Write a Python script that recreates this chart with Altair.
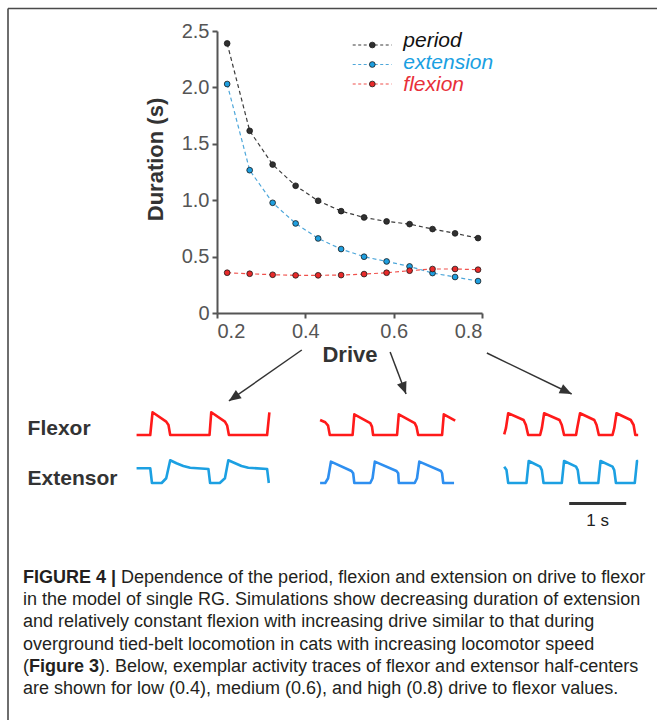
import altair as alt
import pandas as pd

FONT = "Liberation Sans"

# ---------------- data ----------------
drive = [0.223, 0.274, 0.326, 0.378, 0.429, 0.481, 0.533, 0.584, 0.636, 0.688, 0.739, 0.791]
period = [2.39, 1.615, 1.316, 1.128, 0.995, 0.903, 0.847, 0.812, 0.788, 0.744, 0.706, 0.664]
extension = [2.03, 1.266, 0.977, 0.794, 0.661, 0.567, 0.499, 0.457, 0.413, 0.354, 0.319, 0.283]
flexion = [0.357, 0.348, 0.339, 0.334, 0.334, 0.336, 0.345, 0.357, 0.375, 0.390, 0.390, 0.384]
series_names = ["period", "extension", "flexion"]

x_ticks = [0.2, 0.4, 0.6, 0.8]
y_ticks = [0, 0.5, 1.0, 1.5, 2.0, 2.5]

# arrows from the drive axis to the example traces (drive, duration units)
arrow_from_drive = [0.392, 0.592, 0.811]
arrow_from_dur = [-0.328, -0.346, -0.355]
arrow_to_drive = [0.227, 0.628, 1.003]
arrow_to_dur = [-0.78, -0.718, -0.718]
arrow_angle = [235, 159, 116]

# example activity traces: time (s) and normalised activity
blocks = ["low", "mid", "high"]
flex_t = {
    "low": [0.01, 0.25, 0.29, 0.53, 0.57, 0.60, 1.29, 1.32, 1.56, 1.60, 1.63, 2.30, 2.34],
    "mid": [3.23, 3.32, 3.37, 3.40, 3.80, 3.83, 4.11, 4.14, 4.16, 4.58, 4.61, 4.89, 4.92, 4.95, 5.37, 5.40, 5.60],
    "high": [6.46, 6.49, 6.53, 6.80, 6.84, 6.88, 7.09, 7.12, 7.16, 7.43, 7.47, 7.51, 7.72, 7.74, 7.79,
             8.04, 8.08, 8.12, 8.36, 8.39, 8.43, 8.68, 8.73, 8.76, 8.81],
}
flex_a = {
    "low": [0, 0, 1.0, 0.59, 0.44, 0, 0, 1.0, 0.59, 0.41, 0, 0, 1.0],
    "mid": [0.66, 0.56, 0.41, 0, 0, 0.91, 0.52, 0.37, 0, 0, 0.91, 0.52, 0.37, 0, 0, 0.91, 0.63],
    "high": [0.03, 0.30, 0.96, 0.66, 0.44, 0, 0, 0.30, 0.96, 0.66, 0.44, 0, 0, 0.30, 0.96,
             0.66, 0.44, 0, 0, 0.30, 0.96, 0.66, 0.44, 0, 0],
}
ext_t = {
    "low": [0.01, 0.25, 0.28, 0.45, 0.53, 0.60, 0.71, 0.83, 0.95, 1.27, 1.30, 1.47, 1.56, 1.62, 1.74,
            1.85, 1.97, 2.30, 2.33],
    "mid": [3.23, 3.32, 3.37, 3.42, 3.78, 3.81, 3.83, 4.11, 4.15, 4.19, 4.57, 4.60, 4.61, 4.89, 4.93,
            4.97, 5.35, 5.37, 5.39, 5.58],
    "high": [6.46, 6.50, 6.53, 6.85, 6.89, 7.09, 7.12, 7.15, 7.47, 7.51, 7.72, 7.75, 7.78, 8.11, 8.15,
             8.36, 8.39, 8.42, 8.75, 8.79, 8.81],
}
ext_a = {
    "low": [0.65, 0.65, 0, 0, 0.21, 1.0, 0.87, 0.75, 0.67, 0.62, 0, 0, 0.21, 1.0, 0.87, 0.75, 0.67, 0.62, 0],
    "mid": [0, 0, 0.21, 0.94, 0.53, 0.43, 0, 0, 0.21, 0.94, 0.53, 0.43, 0, 0, 0.21, 0.94, 0.53, 0.43, 0, 0],
    "high": [0.72, 0.57, 0, 0, 0.97, 0.72, 0.57, 0, 0, 0.97, 0.72, 0.57, 0, 0, 0.97, 0.72, 0.57, 0, 0, 0.97, 0.97],
}
trace_labels = ["Flexor", "Extensor"]
scale_bar_start = [7.6]
scale_bar_end = [8.6]
scale_bar_label = ["1 s"]

caption_bold_1 = "FIGURE 4 |"
caption_line_1 = "Dependence of the period, flexion and extension on drive to flexor"
caption_line_2 = "in the model of single RG. Simulations show decreasing duration of extension"
caption_line_3 = "and relatively constant flexion with increasing drive similar to that during"
caption_line_4 = "overground tied-belt locomotion in cats with increasing locomotor speed"
caption_open_5 = "("
caption_bold_5 = "Figure 3"
caption_line_5 = "). Below, exemplar activity traces of flexor and extensor half-centers"
caption_line_6 = "are shown for low (0.4), medium (0.6), and high (0.8) drive to flexor values."

# ---------------- styles ----------------
line_colors = ["#3c3c3c", "#4ea7da", "#f0514c"]
dot_colors = ["#303030", "#1e9fe0", "#e82a2a"]
text_colors = ["#111111", "#1aa0e2", "#e8303a"]
ext_colors = ["#1ca0e2", "#2e8ff0", "#1ca0e2"]
FLEX_RED = "#ff1a1a"
DARK = "#333333"

# ---------------- tables ----------------
rows = []
for name, vals in zip(series_names, [period, extension, flexion]):
    for d, v in zip(drive, vals):
        rows.append({"drive": d, "duration": v, "series": name})
main_df = pd.DataFrame(rows)

arrow_df = pd.DataFrame({"d0": arrow_from_drive, "u0": arrow_from_dur,
                         "d1": arrow_to_drive, "u1": arrow_to_dur, "angle": arrow_angle})

flex_df = pd.DataFrame([{"t": t, "a": a, "block": b} for b in blocks for t, a in zip(flex_t[b], flex_a[b])])
ext_df = pd.DataFrame([{"t": t, "a": a, "block": b} for b in blocks for t, a in zip(ext_t[b], ext_a[b])])
bar_df = pd.DataFrame({"t0": scale_bar_start, "t1": scale_bar_end, "label": scale_bar_label})
leg_df = pd.DataFrame({"series": series_names})
lab_df = pd.DataFrame({"label": trace_labels})

# ---------------- main plot ----------------
xs = alt.Scale(domain=[0.2, 0.8], nice=False, zero=False)
ys = alt.Scale(domain=[0, 2.5], nice=False, zero=False)
x_axis = alt.Axis(values=x_ticks, format=".1f", title="Drive", grid=False,
                  labelFont=FONT, labelFontSize=20, labelColor="#555555", labelPadding=3,
                  tickSize=5, tickWidth=2, tickColor="#555555",
                  domainColor="#555555", domainWidth=2,
                  titleFont=FONT, titleFontSize=22, titleFontWeight="bold", titleColor=DARK,
                  titleY=48.5, titleBaseline="alphabetic")
y_axis = alt.Axis(values=y_ticks, labelExpr="datum.value == 0 ? '0' : format(datum.value, '.1f')",
                  title="Duration (s)", grid=False,
                  labelFont=FONT, labelFontSize=20, labelColor="#555555", labelPadding=3,
                  tickSize=5, tickWidth=2, tickColor="#555555",
                  domainColor="#555555", domainWidth=2,
                  titleFont=FONT, titleFontSize=22, titleFontWeight="bold", titleColor=DARK,
                  titleX=-55, titleY=128, titleAlign="center", titleBaseline="alphabetic")

lines = alt.Chart(main_df).mark_line(strokeDash=[4, 3], strokeWidth=1.2).encode(
    x=alt.X("drive:Q", scale=xs, axis=x_axis),
    y=alt.Y("duration:Q", scale=ys, axis=y_axis),
    stroke=alt.Stroke("series:N", scale=alt.Scale(domain=series_names, range=line_colors), legend=None),
    detail="series:N",
)
points = alt.Chart(main_df).mark_circle(size=33, opacity=1, stroke="#1a1a1a", strokeWidth=0.8).encode(
    x=alt.X("drive:Q", scale=xs, axis=x_axis),
    y=alt.Y("duration:Q", scale=ys, axis=y_axis),
    fill=alt.Fill("series:N", scale=alt.Scale(domain=series_names, range=dot_colors), legend=None),
)
arrow_lines = alt.Chart(arrow_df).mark_rule(color=DARK, strokeWidth=1.5).encode(
    x=alt.X("d0:Q", scale=xs, axis=x_axis), y=alt.Y("u0:Q", scale=ys, axis=y_axis),
    x2="d1:Q", y2="u1:Q",
)
arrow_heads = alt.Chart(arrow_df).mark_point(
    shape="M0,0L-0.42,1L0.42,1Z", filled=True, size=576, color=DARK, opacity=1
).encode(
    x=alt.X("d1:Q", scale=xs, axis=x_axis), y=alt.Y("u1:Q", scale=ys, axis=y_axis),
    angle=alt.Angle("angle:Q", scale=None),
)
main = alt.layer(lines, points, arrow_lines, arrow_heads)

# ---------------- traces ----------------
ts = alt.Scale(domain=[0, 9], range=[-81, 432], nice=False, zero=False)
flex_line = alt.Chart(flex_df).mark_line(color=FLEX_RED, strokeWidth=2.6, strokeJoin="round").encode(
    x=alt.X("t:Q", scale=ts, axis=None),
    y=alt.Y("a:Q", scale=alt.Scale(domain=[0, 1], range=[404, 381.3], nice=False, zero=False), axis=None),
    detail="block:N",
)
ext_line = alt.Chart(ext_df).mark_line(strokeWidth=2.6, strokeJoin="round").encode(
    x=alt.X("t:Q", scale=ts, axis=None),
    y=alt.Y("a:Q", scale=alt.Scale(domain=[0, 1], range=[452, 429.3], nice=False, zero=False), axis=None),
    stroke=alt.Stroke("block:N", scale=alt.Scale(domain=blocks, range=ext_colors), legend=None),
    detail="block:N",
)
bar = alt.Chart(bar_df).mark_rule(color=DARK, strokeWidth=3).encode(
    x=alt.X("t0:Q", scale=ts, axis=None), x2="t1:Q", y=alt.value(472.5),
)
bar_text = alt.Chart(bar_df).transform_calculate(tm="(datum.t0 + datum.t1) / 2").mark_text(
    font=FONT, fontSize=17, color="#222222", baseline="middle"
).encode(x=alt.X("tm:Q", scale=ts, axis=None), y=alt.value(490.4), text="label:N")
traces = alt.layer(flex_line, ext_line, bar, bar_text).resolve_scale(y="independent", stroke="independent")

# ---------------- legend ----------------
leg_y = alt.Y("series:N", scale=alt.Scale(type="point", domain=series_names, range=[14, 53], padding=0), axis=None)
leg_rule = alt.Chart(leg_df).mark_rule(strokeDash=[3, 2.5], strokeWidth=1.2).encode(
    x=alt.value(135.7), x2=alt.value(174.7), y=leg_y,
    stroke=alt.Stroke("series:N", scale=alt.Scale(domain=series_names, range=line_colors), legend=None),
)
leg_dot = alt.Chart(leg_df).mark_circle(size=33, opacity=1, stroke="#1a1a1a", strokeWidth=0.8).encode(
    x=alt.value(155.3), y=leg_y,
    fill=alt.Fill("series:N", scale=alt.Scale(domain=series_names, range=dot_colors), legend=None),
)
legend_marks = alt.layer(leg_rule, leg_dot)
leg_text = alt.Chart(leg_df).mark_text(
    font=FONT, fontSize=21, fontStyle="italic", align="left", baseline="alphabetic"
).encode(
    x=alt.value(186.3),
    y=alt.Y("series:N", scale=alt.Scale(type="point", domain=series_names, range=[15.5, 59.5], padding=0), axis=None),
    text="series:N",
    color=alt.Color("series:N", scale=alt.Scale(domain=series_names, range=text_colors), legend=None),
)

# ---------------- row labels ----------------
row_labels = alt.Chart(lab_df).mark_text(
    font=FONT, fontSize=21, fontWeight="bold", color=DARK, align="left", baseline="middle"
).encode(
    x=alt.value(-189.4),
    y=alt.Y("label:N", scale=alt.Scale(type="point", domain=trace_labels, range=[398, 448], padding=0), axis=None),
    text="label:N",
)


# ---------------- caption ----------------
def caption(txt, x, y, bold=False):
    return alt.Chart(pd.DataFrame({"txt": [txt]})).mark_text(
        font=FONT, fontSize=18, fontWeight="bold" if bold else "normal", color="#231f20",
        align="left", baseline="alphabetic",
    ).encode(x=alt.value(x), y=alt.value(y), text="txt:N")


cap_x = 23 - 217
cap_y = [583 - 31 + 22.2 * i for i in range(6)]
captions = [
    caption(caption_bold_1, cap_x, cap_y[0], bold=True),
    caption(caption_line_1, cap_x + 98, cap_y[0]),
    caption(caption_line_2, cap_x, cap_y[1]),
    caption(caption_line_3, cap_x, cap_y[2]),
    caption(caption_line_4, cap_x, cap_y[3]),
    caption(caption_open_5, cap_x, cap_y[4]),
    caption(caption_bold_5, cap_x + 6, cap_y[4], bold=True),
    caption(caption_line_5, cap_x + 76, cap_y[4]),
    caption(caption_line_6, cap_x, cap_y[5]),
]

# ---------------- frame lines ----------------
frame_df = pd.DataFrame({"k": [0]})
frame_top = alt.Chart(frame_df).mark_rule(color="#4a4a4a", strokeWidth=1.6).encode(
    x=alt.value(-209), x2=alt.value(440), y=alt.value(-22.5))
frame_left = alt.Chart(frame_df).mark_rule(color="#4a4a4a", strokeWidth=1.6).encode(
    x=alt.value(-209), y=alt.value(-22.5), y2=alt.value(689))

chart = alt.layer(
    frame_top, frame_left, main, traces, legend_marks, leg_text, row_labels, *captions
).resolve_scale(
    x="independent", y="independent", stroke="independent", fill="independent", color="independent"
).properties(
    width=265, height=282,
    padding={"left": 217, "top": 31, "right": 175, "bottom": 407},
    autosize=alt.AutoSizeParams(type="none"),
    background="white",
).configure_view(stroke=None)

chart.save("out.html", embed_options={"renderer": "svg", "actions": False})
